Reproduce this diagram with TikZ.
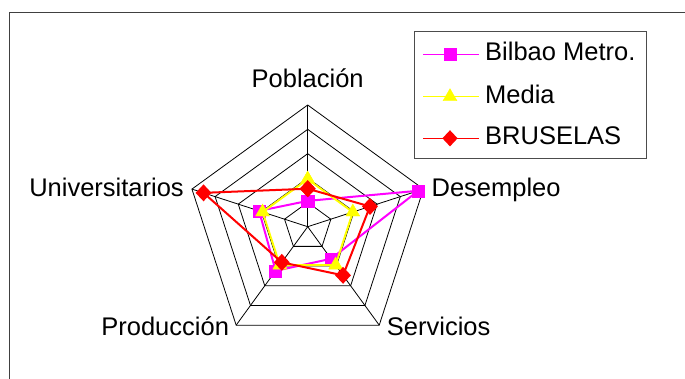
\documentclass[tikz,border=0pt]{standalone}
\usepackage{fontspec}
\setmainfont{Liberation Sans}
\usetikzlibrary{plotmarks}
\definecolor{bilbao}{RGB}{255,0,255}
\definecolor{media}{RGB}{255,255,0}
\definecolor{bruselas}{RGB}{255,0,0}
\tikzset{
  grid line/.style={black, line width=0.8pt},
  series/.style={#1, line width=2pt, line join=miter,
    mark options={solid, line width=0.4pt, fill=#1, draw=#1}},
  axis label/.style={inner sep=0pt, font=\fontsize{25.5pt}{30pt}\selectfont},
}
\begin{document}
\begin{tikzpicture}[x=24.34pt, y=24.34pt]
    \useasboundingbox (-307.7pt,-151.3pt) rectangle (377.3pt,226.7pt);
    \clip (-307.7pt,-151.3pt) rectangle (377.3pt,226.7pt);
    \draw [line width=1pt, black!75] (-297.7pt,-170pt) rectangle (400pt,213.7pt);

    \foreach \r in {1,...,5}
        \draw [grid line] (90:\r) -- (18:\r) -- (-54:\r) -- (-126:\r) -- (162:\r) -- cycle;
    \foreach \a in {90,18,-54,-126,162}
        \draw [grid line] (0,0) -- (\a:5);

    \coordinate (poblacion) at (90:5);
    \coordinate (desempleo) at (18:5);
    \coordinate (servicios) at (-54:5);
    \coordinate (produccion) at (-126:5);
    \coordinate (universitarios) at (162:5);

    \node [axis label, anchor=base] (lpob) at ([yshift=17pt]poblacion) {Población};
    \node [axis label, anchor=base west] (ldes) at ([xshift=8pt,yshift=-7pt]desempleo) {Desempleo};
    \node [axis label, anchor=base west] (lser) at ([xshift=7.5pt,yshift=-10pt]servicios) {Servicios};
    \node [axis label, anchor=base east] (lpro) at ([xshift=-7pt,yshift=-10pt]produccion) {Producción};
    \node [axis label, anchor=base east] (luni) at ([xshift=-8pt,yshift=-7pt]universitarios) {Universitarios};

    \draw [series=bilbao] plot [mark=square*, mark size=6pt]
        coordinates {(90:1.06) (18:4.78) (-54:1.63) (-126:2.24) (162:2.1) (90:1.06)};
    \draw [series=media] plot [mark=triangle*, mark size=8pt]
        coordinates {(90:1.95) (18:1.95) (-54:1.95) (-126:1.95) (162:1.95) (90:1.95)};
    \draw [series=bruselas] plot [mark=diamond*, mark size=7pt, mark options={xscale=1.25}]
        coordinates {(90:1.56) (18:2.69) (-54:2.47) (-126:1.81) (162:4.5) (90:1.56)};

    \draw [line width=0.8pt, black!70, fill=white] (106.3pt,68.7pt) rectangle (338.3pt,195.7pt);
    \draw [series=bilbao, line width=1.5pt] plot [mark=square*, mark size=6pt, mark indices={2}]
        coordinates {(115.3pt,172.4pt) (142.3pt,172.4pt) (171.3pt,172.4pt)};
    \draw [series=media, line width=1.5pt] plot [mark=triangle*, mark size=8pt, mark indices={2}]
        coordinates {(115.3pt,130pt) (142.3pt,130pt) (171.3pt,130pt)};
    \draw [series=bruselas, line width=1.5pt] plot [mark=diamond*, mark size=7pt, mark indices={2}, mark options={xscale=1.25}]
        coordinates {(115.3pt,88.4pt) (142.3pt,88.4pt) (171.3pt,88.4pt)};
    \node [axis label, anchor=base west] (lbilbao) at (177.3pt,166pt) {Bilbao Metro.};
    \node [axis label, anchor=base west] (lmedia) at (177.3pt,123.6pt) {Media};
    \node [axis label, anchor=base west] (lbruselas) at (177.3pt,82pt) {BRUSELAS};
\end{tikzpicture}
\end{document}
